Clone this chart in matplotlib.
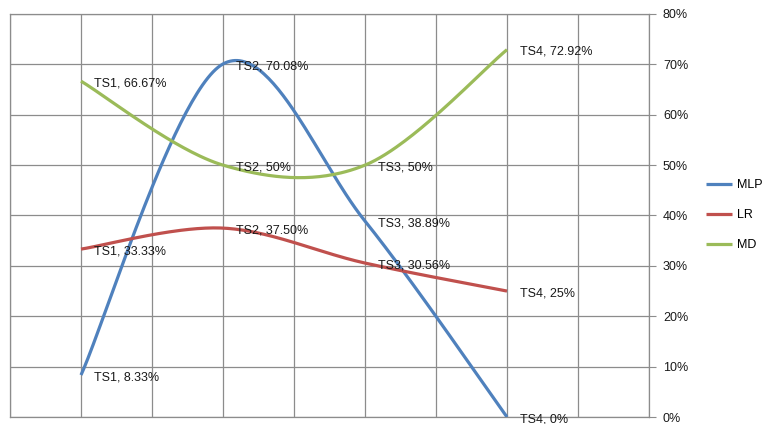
import matplotlib

matplotlib.use("Agg")
import matplotlib.pyplot as plt  # noqa: E402
import numpy as np  # noqa: E402
from matplotlib.ticker import FuncFormatter, MultipleLocator  # noqa: E402

# 数据（百分比）
categories = ["TS1", "TS2", "TS3", "TS4"]
mlp = [8.33, 70.08, 38.89, 0.0]
lr = [33.33, 37.50, 30.56, 25.0]
md = [66.67, 50.0, 50.0, 72.92]
mlp_text = ["8.33%", "70.08%", "38.89%", "0%"]
lr_text = ["33.33%", "37.50%", "30.56%", "25%"]
md_text = ["66.67%", "50%", "50%", "72.92%"]

C_MLP = "#4f81bd"
C_LR = "#c0504d"
C_MD = "#9bbb59"
C_GRID = "#8c8c8c"

plt.rcParams["font.family"] = ["Liberation Sans", "DejaVu Sans"]


def smooth(xs, ys, n=60):
    """Excel 风格平滑线：分段三次贝塞尔，控制点取相邻点差的 1/6。"""
    xs = np.asarray(xs, float)
    ys = np.asarray(ys, float)
    pts = np.column_stack([xs, ys])
    k = len(pts)
    out = []
    t = np.linspace(0, 1, n)[:, None]
    for i in range(k - 1):
        p0 = pts[i]
        p3 = pts[i + 1]
        prev = pts[max(i - 1, 0)]
        nxt = pts[min(i + 2, k - 1)]
        p1 = p0 + (p3 - prev) / 6
        p2 = p3 - (nxt - p0) / 6
        seg = ((1 - t) ** 3) * p0 + 3 * ((1 - t) ** 2) * t * p1 + 3 * (1 - t) * t ** 2 * p2 + t ** 3 * p3
        out.append(seg if i == 0 else seg[1:])
    seg = np.vstack(out)
    return seg[:, 0], seg[:, 1]


fig = plt.figure(figsize=(7.64, 4.24), dpi=100)
ax = fig.add_axes([10 / 764, 7 / 424, 639 / 764, 403 / 424])

x = np.arange(1, len(categories) + 1)
for vals, texts, color, name in [(mlp, mlp_text, C_MLP, "MLP"),
                                 (lr, lr_text, C_LR, "LR"),
                                 (md, md_text, C_MD, "MD")]:
    sx, sy = smooth(x, vals)
    ax.plot(sx, sy, color=color, linewidth=2.3, label=name, solid_capstyle="butt", zorder=3)
    for xi, yi, cat, txt in zip(x, vals, categories, texts):
        ax.annotate(f"{cat}, {txt}", (xi, yi), xytext=(9, -1.5), textcoords="offset points",
                    ha="left", va="center", fontsize=9, color="#1a1a1a", zorder=4,
                    annotation_clip=False)

ax.set_xlim(0.5, 5.0)
ax.set_ylim(0, 80)
ax.xaxis.set_major_locator(MultipleLocator(0.5))
ax.yaxis.set_major_locator(MultipleLocator(10))
ax.yaxis.set_major_formatter(FuncFormatter(lambda v, _: f"{v:.0f}%"))
ax.yaxis.tick_right()
ax.tick_params(axis="x", length=0, labelbottom=False)
ax.tick_params(axis="y", length=5, width=0.8, color=C_GRID, pad=5, labelsize=9, labelcolor="#1a1a1a")
ax.grid(True, color=C_GRID, linewidth=0.9)
for s in ax.spines.values():
    s.set_color(C_GRID)
    s.set_linewidth(0.9)

# 图例放在坐标轴右侧，留够宽度让 "MLP" 完整显示
fig.legend(loc="center left", bbox_to_anchor=(701 / 764, 209 / 424), frameon=False,
           fontsize=9, handlelength=2.1, handletextpad=0.4, labelspacing=1.45,
           borderaxespad=0)

fig.savefig("out.png", dpi=100)
